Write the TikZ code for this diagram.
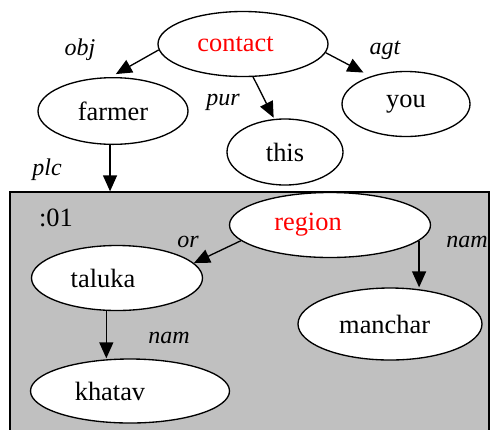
\documentclass[tikz,border=0pt]{standalone}
\usepackage{fontspec}
\setmainfont{Liberation Serif}
\usetikzlibrary{shapes.geometric, arrows.meta}

\definecolor{boxgray}{RGB}{192,192,192}

\tikzset{
    concept/.style={ellipse, draw, line width=1pt, fill=white, inner sep=0pt},
    word/.style={font=\fontsize{19.8}{23}\selectfont},
    rel/.style={font=\fontsize{18}{21}\selectfont\itshape},
    link/.style={-{Triangle[length=12pt, width=10.5pt]}, line width=1pt},
}

\begin{document}
\begin{tikzpicture}[x=0.75pt, y=-0.75pt]
            \useasboundingbox (0,0) rectangle (491,429);
            \clip (0,0) rectangle (491,429);

            % grey box
            \node[draw, fill=boxgray, line width=1pt, inner sep=0pt,
                minimum width=359.25pt, minimum height=186pt] (box01) at (249.5,316) {};
            \node[word] (tag01) at (56,218) {:01};

            % concepts
            \node[concept, minimum width=127.5pt, minimum height=48.75pt,
                label={[word, text=red, xshift=-5.6pt]center:contact}] (contact) at (243,44) {};
            \node[concept, word, minimum width=112.5pt, minimum height=50pt] (farmer) at (113,111) {farmer};
            \node[concept, word, minimum width=87pt, minimum height=49.5pt] (this) at (285,152) {this};
            \node[concept, word, minimum width=96pt, minimum height=48.75pt] (you) at (406,104) {you};

            \node[concept, minimum width=150.75pt, minimum height=48.75pt,
                label={[word, text=red, xshift=-16.5pt]center:region}] (region) at (330,225) {};
            \node[concept, minimum width=128.25pt, minimum height=48.75pt,
                label={[word, xshift=-10.5pt]center:taluka}] (taluka) at (117,278) {};
            \node[concept, minimum width=138pt, minimum height=54pt,
                label={[word, xshift=-4pt]center:manchar}] (manchar) at (390,324) {};
            \node[concept, minimum width=149.25pt, minimum height=48pt,
                label={[word, xshift=-15pt]center:khatav}] (khatav) at (130,391) {};

            % relations
            \draw[link, shorten >=4.5pt] (contact.184) -- (farmer.94);
            \draw[link, shorten >=1pt] (contact.-73) -- (this.108);
            \draw[link, shorten >=6pt] (contact.-6) -- (you.142);
            \draw[link] (farmer.-95) -- (farmer.-95 |- box01.north);
            \draw[link] (region.190) -- (taluka.11);
            \draw[link] (region.-10) -- (region.-10 |- manchar.north);
            \draw[link] (taluka.-108) -- (taluka.-108 |- khatav.north);

            % notations
            \node[rel] (obj) at (80,50) {obj};
            \node[rel] (pur) at (223,102) {pur};
            \node[rel] (agt) at (385,50) {agt};
            \node[rel] (plc) at (47,170) {plc};
            \node[rel] (or) at (188,242) {or};
            \node[rel] (nam1) at (467,242) {nam};
            \node[rel] (nam2) at (169,338) {nam};

        \end{tikzpicture}
\end{document}
